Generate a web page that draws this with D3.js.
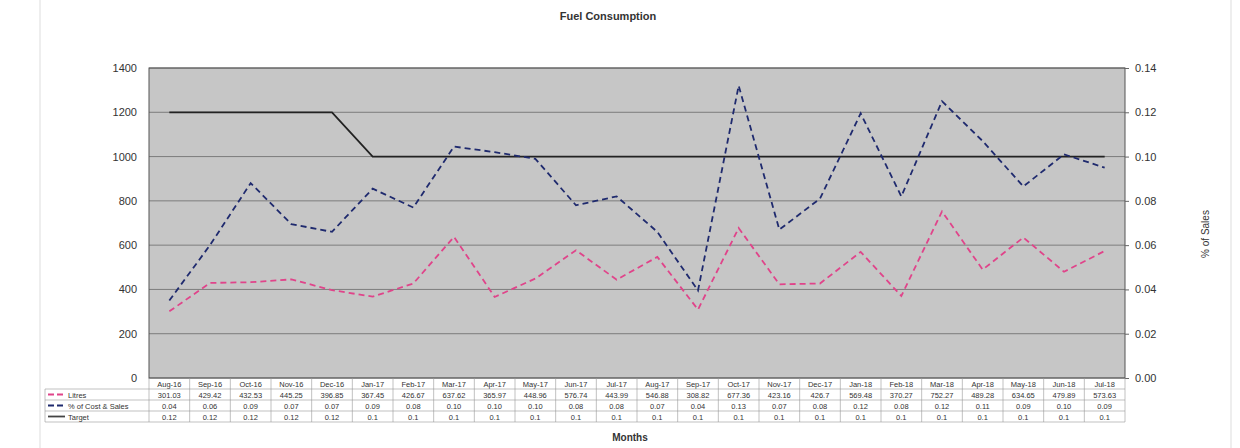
<!DOCTYPE html>
<html>
<head>
<meta charset="utf-8">
<script src="https://cdn.jsdelivr.net/npm/d3@7"></script>
<style>
body { margin: 0; background: #fff; }
svg text { font-family: "Liberation Sans", Arial, sans-serif; fill: #333; }
</style>
</head>
<body>
<div id="graph"></div>
<script>
// data
var months = ["Aug-16","Sep-16","Oct-16","Nov-16","Dec-16","Jan-17","Feb-17","Mar-17","Apr-17","May-17","Jun-17","Jul-17",
  "Aug-17","Sep-17","Oct-17","Nov-17","Dec-17","Jan-18","Feb-18","Mar-18","Apr-18","May-18","Jun-18","Jul-18"];
var litres = [301.03,429.42,432.53,445.25,396.85,367.45,426.67,637.62,365.97,448.96,576.74,443.99,
  546.88,308.82,677.36,423.16,426.7,569.48,370.27,752.27,489.28,634.65,479.89,573.63];
// plotted % values (more precise than the rounded table)
var pctCost = [0.035,0.060,0.088,0.0695,0.066,0.0855,0.077,0.1045,0.102,0.099,0.078,0.082,
  0.066,0.0395,0.132,0.067,0.081,0.1195,0.082,0.125,0.107,0.0865,0.101,0.095];
var pctTable = ["0.04","0.06","0.09","0.07","0.07","0.09","0.08","0.10","0.10","0.10","0.08","0.08",
  "0.07","0.04","0.13","0.07","0.08","0.12","0.08","0.12","0.11","0.09","0.10","0.09"];
var target = [0.12,0.12,0.12,0.12,0.12,0.1,0.1,0.1,0.1,0.1,0.1,0.1,
  0.1,0.1,0.1,0.1,0.1,0.1,0.1,0.1,0.1,0.1,0.1,0.1];
var leftTicks = [0,200,400,600,800,1000,1200,1400];
var rightTicks = [0,0.02,0.04,0.06,0.08,0.10,0.12,0.14];

var W = 1240, H = 448;
var plotL = 149, plotR = 1125, plotT = 68, plotB = 378;
var rowH = 11, tableLeft = 45;

var svg = d3.select("#graph").append("svg")
  .attr("width", W).attr("height", H);

// faint scan borders
svg.append("line").attr("x1", 40).attr("x2", 40).attr("y1", 0).attr("y2", H)
  .attr("stroke", "#eee").attr("stroke-width", 2);
svg.append("line").attr("x1", 1231).attr("x2", 1231).attr("y1", 0).attr("y2", H)
  .attr("stroke", "#eee").attr("stroke-width", 2);

var x = d3.scaleBand().domain(months).range([plotL, plotR]).padding(0);
var y = d3.scaleLinear().domain([0, 1400]).range([plotB, plotT]);
var y2 = d3.scaleLinear().domain([0, 0.14]).range([plotB, plotT]);
var cx = function(m) { return x(m) + x.bandwidth() / 2; };

// plot area
svg.append("rect").attr("x", plotL).attr("y", plotT)
  .attr("width", plotR - plotL).attr("height", plotB - plotT)
  .attr("fill", "#c6c6c6");

// grid
svg.selectAll(".grid").data(leftTicks).enter().append("line")
  .attr("x1", plotL).attr("x2", plotR)
  .attr("y1", function(d) { return y(d); }).attr("y2", function(d) { return y(d); })
  .attr("stroke", "#6a6a6a").attr("stroke-width", 0.8);

svg.append("rect").attr("x", plotL).attr("y", plotT)
  .attr("width", plotR - plotL).attr("height", plotB - plotT)
  .attr("fill", "none").attr("stroke", "#555").attr("stroke-width", 1);

// left axis
var ax = svg.append("g").attr("transform", "translate(" + plotL + ",0)")
  .call(d3.axisLeft(y).tickValues(leftTicks).tickSize(0).tickPadding(12).tickFormat(d3.format("d")));
ax.select(".domain").remove();
ax.selectAll("text").attr("font-size", 11).style("fill", "#333");

// right axis
var ax2 = svg.append("g").attr("transform", "translate(" + plotR + ",0)")
  .call(d3.axisRight(y2).tickValues(rightTicks).tickSize(4).tickPadding(6).tickFormat(d3.format(".2f")));
ax2.select(".domain").remove();
ax2.selectAll("line").attr("stroke", "#666");
ax2.selectAll("text").attr("font-size", 11).style("fill", "#333");

// lines
var line = function(vals, sc) {
  return d3.line().x(function(d, i) { return cx(months[i]); }).y(function(d) { return sc(d); })(vals);
};
svg.append("path").attr("d", line(target, y2)).attr("fill", "none")
  .attr("stroke", "#222").attr("stroke-width", 1.8);
svg.append("path").attr("d", line(litres, y)).attr("fill", "none")
  .attr("stroke", "#e0448a").attr("stroke-width", 1.8).attr("stroke-dasharray", "6,4");
svg.append("path").attr("d", line(pctCost, y2)).attr("fill", "none")
  .attr("stroke", "#1f2a6e").attr("stroke-width", 1.8).attr("stroke-dasharray", "6,4");

// data table
var tbl = svg.append("g");
var rows = [
  {name: "Litres", vals: litres.map(String), color: "#e0448a", dash: "6,3"},
  {name: "% of Cost & Sales", vals: pctTable, color: "#1f2a6e", dash: "6,3"},
  {name: "Target", vals: target.map(String), color: "#444", dash: null}
];
// header row (months)
tbl.selectAll(".mh").data(months).enter().append("text")
  .attr("x", function(d) { return cx(d); }).attr("y", plotB + rowH / 2 + 3)
  .attr("text-anchor", "middle").attr("font-size", 7.5).text(function(d) { return d; });
var gridColor = "#999";
var tTop = plotB, tBot = plotB + rowH * 4;
// vertical separators
months.forEach(function(m) {
  tbl.append("line").attr("x1", x(m)).attr("x2", x(m)).attr("y1", tTop).attr("y2", tBot)
    .attr("stroke", gridColor).attr("stroke-width", 0.6);
});
tbl.append("line").attr("x1", plotR).attr("x2", plotR).attr("y1", tTop).attr("y2", tBot)
  .attr("stroke", gridColor).attr("stroke-width", 0.6);
tbl.append("line").attr("x1", tableLeft).attr("x2", tableLeft).attr("y1", tTop + rowH).attr("y2", tBot)
  .attr("stroke", gridColor).attr("stroke-width", 0.6);
// horizontal lines
[1, 2, 3, 4].forEach(function(r) {
  tbl.append("line").attr("x1", tableLeft).attr("x2", plotR)
    .attr("y1", tTop + r * rowH).attr("y2", tTop + r * rowH)
    .attr("stroke", gridColor).attr("stroke-width", 0.6);
});
rows.forEach(function(row, r) {
  var ry = tTop + (r + 1) * rowH;
  tbl.append("line").attr("x1", tableLeft + 3).attr("x2", tableLeft + 20)
    .attr("y1", ry + rowH / 2).attr("y2", ry + rowH / 2)
    .attr("stroke", row.color).attr("stroke-width", 1.8)
    .attr("stroke-dasharray", row.dash);
  tbl.append("text").attr("x", tableLeft + 23).attr("y", ry + rowH / 2 + 3)
    .attr("font-size", 7.5).text(row.name);
  tbl.selectAll(".v" + r).data(row.vals).enter().append("text")
    .attr("x", function(d, i) { return cx(months[i]); }).attr("y", ry + rowH / 2 + 3)
    .attr("text-anchor", "middle").attr("font-size", 7.5).text(function(d) { return d; });
});

// titles
svg.append("text").attr("x", 608).attr("y", 20).attr("text-anchor", "middle")
  .attr("font-size", 11).attr("font-weight", "bold").text("Fuel Consumption");
svg.append("text").attr("x", 630).attr("y", 441).attr("text-anchor", "middle")
  .attr("font-size", 10).attr("font-weight", "bold").text("Months");
svg.append("text").attr("transform", "translate(1209,234) rotate(-90)")
  .attr("text-anchor", "middle").attr("font-size", 10).text("% of Sales");
</script>
</body>
</html>
